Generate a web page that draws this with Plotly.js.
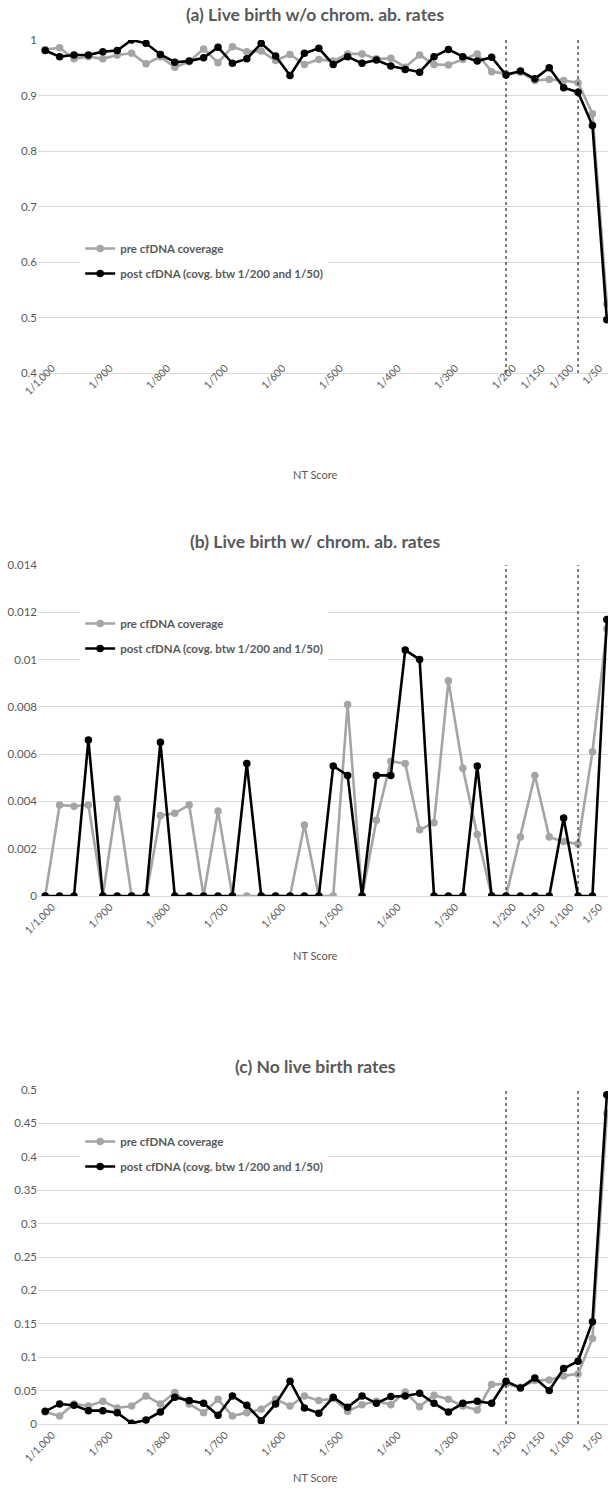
<!DOCTYPE html>
<html>
<head>
<meta charset="utf-8">
<script src="https://cdn.plot.ly/plotly-3.0.1.min.js"></script>
<style>
  html, body { margin: 0; padding: 0; background: #fff; overflow: hidden; }
  #chart { width: 608px; height: 1490px; }
</style>
</head>
<body>
<div id="chart"></div>
<script>
// NT score tick labels and the point each label sits under
const ntLabels = ['1/1,000', '1/900', '1/800', '1/700', '1/600', '1/500', '1/400', '1/300', '1/200', '1/150', '1/100', '1/50'];
const ntLabelIndex = [0, 4, 8, 12, 16, 20, 24, 28, 32, 34, 36, 38];
// cfDNA coverage window boundaries (point index)
const coverageBounds = [32, 37];

const seriesNames = ['pre cfDNA coverage', 'post cfDNA (covg. btw 1/200 and 1/50)'];

// (a) Live birth without chromosomal abnormality
const liveNoAbPre = [0.983, 0.986, 0.966, 0.970, 0.966, 0.973, 0.976, 0.957, 0.970, 0.951,
  0.961, 0.984, 0.959, 0.988, 0.979, 0.980, 0.963, 0.974, 0.956, 0.965,
  0.962, 0.975, 0.975, 0.966, 0.967, 0.951, 0.973, 0.956, 0.955, 0.965,
  0.975, 0.943, 0.939, 0.942, 0.927, 0.929, 0.927, 0.923, 0.867, 0.524];
const liveNoAbPost = [0.981, 0.970, 0.973, 0.973, 0.979, 0.981, 1.000, 0.994, 0.974, 0.960,
  0.962, 0.968, 0.987, 0.958, 0.966, 0.994, 0.971, 0.936, 0.976, 0.985,
  0.956, 0.970, 0.958, 0.964, 0.953, 0.947, 0.942, 0.970, 0.983, 0.970,
  0.962, 0.969, 0.937, 0.944, 0.930, 0.950, 0.914, 0.906, 0.846, 0.496];

// (b) Live birth with chromosomal abnormality
const liveAbPre = [0, 0.00385, 0.0038, 0.00385, 0, 0.0041, 0, 0, 0.0034, 0.0035,
  0.00385, 0, 0.0036, 0, 0, 0, 0, 0, 0.0030, 0,
  0, 0.0081, 0, 0.0032, 0.0057, 0.0056, 0.0028, 0.0031, 0.0091, 0.0054,
  0.0026, 0, 0, 0.0025, 0.0051, 0.0025, 0.0023, 0.0022, 0.0061, 0.0113];
const liveAbPost = [0, 0, 0, 0.0066, 0, 0, 0, 0, 0.0065, 0,
  0, 0, 0, 0, 0.0056, 0, 0, 0, 0, 0,
  0.0055, 0.0051, 0, 0.0051, 0.0051, 0.0104, 0.0100, 0, 0, 0,
  0.0055, 0, 0, 0, 0, 0, 0.0033, 0, 0, 0.0117];

// (c) No live birth
const noLivePre = [0.018, 0.012, 0.030, 0.027, 0.034, 0.024, 0.027, 0.042, 0.030, 0.047,
  0.030, 0.017, 0.037, 0.012, 0.017, 0.022, 0.037, 0.027, 0.042, 0.035,
  0.038, 0.019, 0.029, 0.034, 0.029, 0.048, 0.026, 0.043, 0.037, 0.027,
  0.021, 0.059, 0.060, 0.055, 0.065, 0.066, 0.072, 0.075, 0.128, 0.465];
const noLivePost = [0.019, 0.030, 0.028, 0.020, 0.020, 0.017, 0.001, 0.006, 0.018, 0.040,
  0.035, 0.031, 0.013, 0.042, 0.028, 0.005, 0.030, 0.064, 0.024, 0.016,
  0.040, 0.025, 0.042, 0.031, 0.041, 0.042, 0.046, 0.031, 0.018, 0.031,
  0.034, 0.031, 0.064, 0.054, 0.069, 0.050, 0.083, 0.094, 0.153, 0.493];

const panelTitles = ['(a) Live birth w/o chrom. ab. rates', '(b) Live birth w/ chrom. ab. rates', '(c) No live birth rates'];
const xTitle = 'NT Score';

// ---- styling ----
const H = 1490;
const FONT = 'Lato, "Open Sans", sans-serif';
const TXT = '#595959';
const GRID = '#d9d9d9';
const PRE_COLOR = '#a5a5a5';
const POST_COLOR = '#000000';

const panels = [
  { pre: liveNoAbPre, post: liveNoAbPost, top: 40, bottom: 373, range: [0.4, 1.0], dtick: 0.1,
    titleY: 14, xTitleY: 475, legendTop: 234, labelPull: -16 },
  { pre: liveAbPre, post: liveAbPost, top: 565, bottom: 896, range: [0, 0.014], dtick: 0.002,
    titleY: 541, xTitleY: 955, legendTop: 609, labelPull: 0 },
  { pre: noLivePre, post: noLivePost, top: 1090, bottom: 1424, range: [0, 0.5], dtick: 0.05,
    titleY: 1066, xTitleY: 1477, legendTop: 1127, labelPull: 0 }
];

const py = p => 1 - p / H;

const traces = [];
const layout = {
  width: 608, height: H,
  margin: { l: 38, r: 0, t: 0, b: 0 },
  paper_bgcolor: '#fff', plot_bgcolor: '#fff',
  font: { family: FONT, color: TXT, size: 11 },
  showlegend: true,
  annotations: [],
  shapes: []
};

panels.forEach((p, k) => {
  const n = k === 0 ? '' : String(k + 1);
  const xs = p.pre.map((_, i) => i);
  const legendId = 'legend' + n;
  const xa = 'x' + n, ya = 'y' + n;

  [[p.pre, PRE_COLOR, seriesNames[0]], [p.post, POST_COLOR, seriesNames[1]]].forEach(([vals, col, name], s) => {
    traces.push({
      type: 'scatter', mode: 'lines+markers',
      x: xs, y: vals, name: name,
      xaxis: xa, yaxis: ya,
      legend: legendId, legendgroup: 'g' + k + s,
      line: { color: col, width: 2.6 },
      marker: { color: col, size: 7.5 },
      hoverinfo: 'x+y'
    });
  });

  layout['xaxis' + n] = {
    domain: [0, 1], anchor: ya,
    range: [-0.5, 39.08],
    tickmode: 'array', tickvals: ntLabelIndex, ticktext: ntLabels,
    tickangle: -45, tickfont: { size: 10.5, color: TXT, family: FONT },
    ticklabelshift: 7, ticklabelstandoff: p.labelPull,
    showgrid: false, zeroline: false,
    showline: true, linecolor: GRID, linewidth: 1, ticks: ''
  };
  layout['yaxis' + n] = {
    domain: [py(p.bottom), py(p.top)], anchor: xa,
    range: p.range, dtick: p.dtick, tick0: 0,
    showgrid: true, gridcolor: GRID, gridwidth: 1,
    zeroline: false, showline: false, ticks: '',
    tickfont: { size: 11.5, color: TXT, family: FONT }
  };

  layout[legendId] = {
    x: 0.074, xanchor: 'left',
    y: py(p.legendTop), yanchor: 'top',
    bgcolor: '#ffffff', borderwidth: 0,
    tracegroupgap: 6, traceorder: 'grouped',
    itemwidth: 30,
    font: { family: FONT, size: 11.5, color: TXT, weight: 'bold' }
  };

  layout.annotations.push({
    xref: 'paper', yref: 'paper', x: 0.486, y: py(p.titleY),
    xanchor: 'center', yanchor: 'middle', showarrow: false,
    text: panelTitles[k],
    font: { family: FONT, size: 17.5, color: TXT, weight: 'bold' }
  });
  layout.annotations.push({
    xref: 'paper', yref: 'paper', x: 0.486, y: py(p.xTitleY),
    xanchor: 'center', yanchor: 'middle', showarrow: false,
    text: xTitle,
    font: { family: FONT, size: 11, color: TXT }
  });

  coverageBounds.forEach(b => {
    layout.shapes.push({
      type: 'line', xref: xa, yref: ya + ' domain',
      x0: b, x1: b, y0: 0, y1: 1,
      line: { color: '#000', width: 1, dash: 'dot' }
    });
  });
});

Plotly.newPlot('chart', traces, layout, { displayModeBar: false, staticPlot: true });
</script>
</body>
</html>
